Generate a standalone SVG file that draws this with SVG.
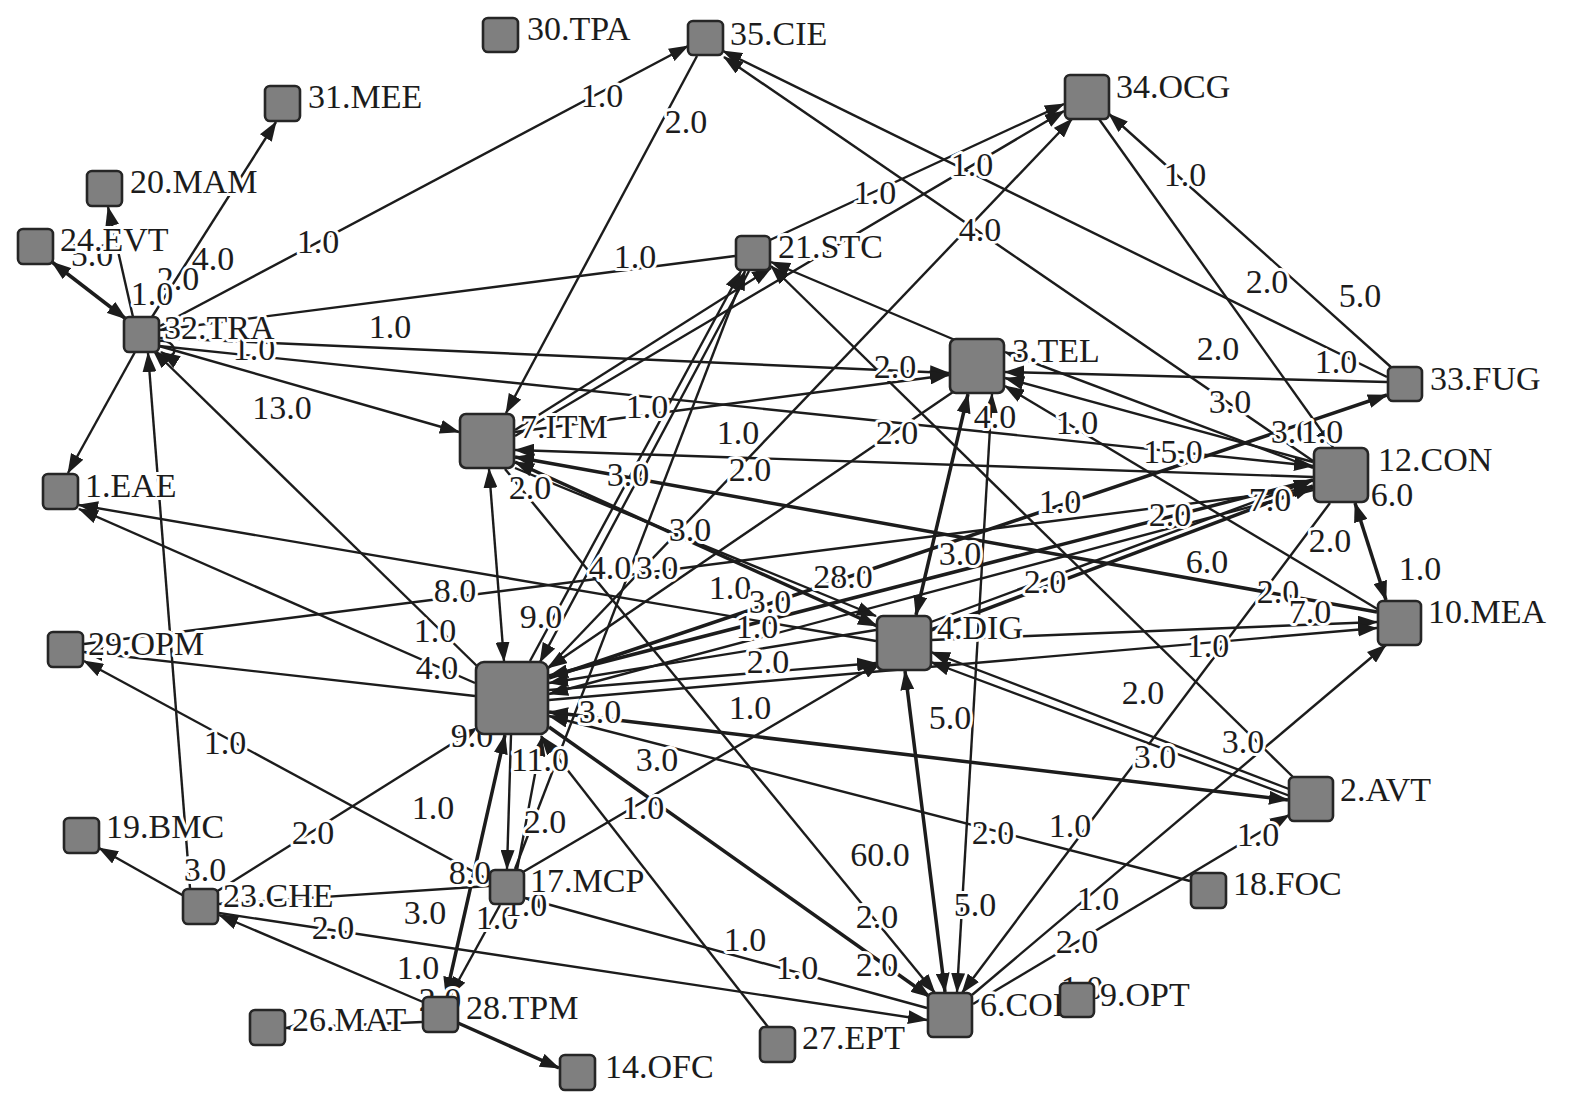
<svg xmlns="http://www.w3.org/2000/svg" width="1575" height="1099" viewBox="0 0 1575 1099">
<style>
.e{stroke:#1c1c1c;fill:none;stroke-width:2.4}
.t{stroke-width:3.5}
.n{fill:#7f7f7f;stroke:#262626;stroke-width:2.6}
text{font-family:"Liberation Serif","Times New Roman",serif;font-size:34px;fill:#1c1c1c}
.l{paint-order:stroke;stroke:#fff;stroke-width:6;stroke-linejoin:round;text-anchor:middle}
.nl{paint-order:stroke;stroke:#fff;stroke-width:6;stroke-linejoin:round}
</style>
<defs>
<marker id="a" viewBox="0 0 20 14" refX="19" refY="7" markerWidth="20" markerHeight="14" markerUnits="userSpaceOnUse" orient="auto-start-reverse"><path d="M0,0 L20,7 L0,14 z" fill="#1c1c1c"/></marker>
</defs>
<rect width="1575" height="1099" fill="#fff"/>
<g id="edges">
<line class="e t" x1="52" y1="262" x2="126" y2="319" marker-start="url(#a)" marker-end="url(#a)"/>
<line class="e" x1="133" y1="317" x2="108" y2="207" marker-end="url(#a)"/>
<line class="e" x1="152" y1="317" x2="276" y2="122" marker-end="url(#a)"/>
<line class="e" x1="160" y1="326" x2="688" y2="46" stroke-width="4" marker-end="url(#a)"/>
<line class="e" x1="735" y1="256" x2="160" y2="330" marker-end="url(#a)"/>
<line class="e" x1="159" y1="338" x2="949" y2="373" marker-end="url(#a)"/>
<line class="e" x1="159" y1="346" x2="1313" y2="466" marker-end="url(#a)"/>
<line class="e" x1="159" y1="346" x2="459" y2="432" marker-end="url(#a)"/>
<line class="e" x1="135" y1="352" x2="68" y2="473" marker-end="url(#a)"/>
<line class="e" x1="190" y1="888" x2="148" y2="353" marker-end="url(#a)"/>
<line class="e" x1="478" y1="667" x2="153" y2="350" marker-end="url(#a)"/>
<path class="e" d="M159,341 C178,338 180,364 161,352" marker-end="url(#a)"/>
<line class="e" x1="876" y1="641" x2="79" y2="505" marker-end="url(#a)"/>
<line class="e" x1="475" y1="683" x2="79" y2="509" marker-end="url(#a)"/>
<line class="e" x1="84" y1="644" x2="1313" y2="488" marker-end="url(#a)"/>
<line class="e" x1="475" y1="696" x2="84" y2="652" marker-end="url(#a)"/>
<line class="e" x1="489" y1="880" x2="84" y2="661" marker-end="url(#a)"/>
<line class="e" x1="216" y1="892" x2="477" y2="728" stroke-width="4.4" marker-end="url(#a)"/>
<line class="e" x1="184" y1="896" x2="99" y2="848" marker-end="url(#a)"/>
<line class="e" x1="489" y1="886" x2="219" y2="904" marker-end="url(#a)"/>
<line class="e" x1="219" y1="913" x2="927" y2="1020" marker-end="url(#a)"/>
<line class="e" x1="423" y1="1002" x2="219" y2="915" stroke-width="4.4" marker-end="url(#a)"/>
<line class="e" x1="422" y1="1022" x2="285" y2="1028" marker-end="url(#a)"/>
<line class="e t" x1="458" y1="1023" x2="559" y2="1068" marker-end="url(#a)"/>
<line class="e" x1="500" y1="905" x2="450" y2="996" marker-end="url(#a)"/>
<line class="e t" x1="505" y1="735" x2="446" y2="996" marker-start="url(#a)" marker-end="url(#a)"/>
<line class="e" x1="511" y1="735" x2="507" y2="869" marker-end="url(#a)"/>
<line class="e" x1="517" y1="870" x2="542" y2="737" marker-end="url(#a)"/>
<line class="e" x1="768" y1="1027" x2="541" y2="736" marker-end="url(#a)"/>
<line class="e" x1="523" y1="872" x2="881" y2="662" marker-end="url(#a)"/>
<line class="e" x1="927" y1="1008" x2="525" y2="898" marker-end="url(#a)"/>
<line class="e t" x1="549" y1="727" x2="930" y2="997" marker-end="url(#a)"/>
<line class="e" x1="505" y1="469" x2="935" y2="993" marker-end="url(#a)"/>
<line class="e t" x1="905" y1="671" x2="945" y2="992" marker-start="url(#a)" marker-end="url(#a)"/>
<line class="e" x1="992" y1="394" x2="957" y2="992" marker-start="url(#a)" marker-end="url(#a)"/>
<line class="e t" x1="968" y1="394" x2="916" y2="615" marker-start="url(#a)" marker-end="url(#a)"/>
<line class="e" x1="489" y1="469" x2="504" y2="661" stroke-width="2.8" marker-start="url(#a)" marker-end="url(#a)"/>
<line class="e" x1="749" y1="271" x2="540" y2="662" marker-end="url(#a)"/>
<line class="e" x1="530" y1="661" x2="741" y2="271" marker-end="url(#a)"/>
<line class="e" x1="515" y1="869" x2="745" y2="271" marker-end="url(#a)"/>
<line class="e" x1="515" y1="430" x2="771" y2="268" marker-end="url(#a)"/>
<line class="e" x1="515" y1="436" x2="1064" y2="111" marker-end="url(#a)"/>
<line class="e" x1="770" y1="240" x2="1064" y2="104" marker-end="url(#a)"/>
<line class="e" x1="548" y1="668" x2="1072" y2="119" marker-end="url(#a)"/>
<line class="e" x1="697" y1="56" x2="506" y2="413" marker-end="url(#a)"/>
<line class="e" x1="1387" y1="377" x2="723" y2="51" marker-end="url(#a)"/>
<line class="e" x1="1316" y1="463" x2="724" y2="57" marker-end="url(#a)"/>
<line class="e" x1="1099" y1="119" x2="1333" y2="447" marker-end="url(#a)"/>
<line class="e" x1="1392" y1="368" x2="1109" y2="114" marker-end="url(#a)"/>
<line class="e" x1="1387" y1="382" x2="1005" y2="372" marker-end="url(#a)"/>
<line class="e t" x1="549" y1="678" x2="1387" y2="395" marker-end="url(#a)"/>
<line class="e" x1="1313" y1="462" x2="1005" y2="378" marker-end="url(#a)"/>
<line class="e" x1="1313" y1="468" x2="1005" y2="352" marker-end="url(#a)"/>
<line class="e" x1="1379" y1="610" x2="1005" y2="386" marker-end="url(#a)"/>
<line class="e" x1="1313" y1="477" x2="515" y2="450" stroke-width="2.8" marker-end="url(#a)"/>
<line class="e t" x1="1377" y1="612" x2="515" y2="457" marker-end="url(#a)"/>
<line class="e t" x1="515" y1="462" x2="877" y2="626" marker-start="url(#a)" marker-end="url(#a)"/>
<line class="e" x1="515" y1="468" x2="876" y2="616" marker-end="url(#a)"/>
<line class="e" x1="931" y1="640" x2="1377" y2="622" marker-end="url(#a)"/>
<line class="e" x1="549" y1="700" x2="1377" y2="628" marker-end="url(#a)"/>
<line class="e" x1="1330" y1="503" x2="962" y2="993" marker-end="url(#a)"/>
<line class="e t" x1="1355" y1="503" x2="1386" y2="600" marker-start="url(#a)" marker-end="url(#a)"/>
<line class="e" x1="972" y1="995" x2="1386" y2="645" marker-end="url(#a)"/>
<line class="e" x1="973" y1="1004" x2="1289" y2="815" stroke-width="4" marker-end="url(#a)"/>
<line class="e t" x1="549" y1="712" x2="1288" y2="800" marker-start="url(#a)" marker-end="url(#a)"/>
<line class="e" x1="1289" y1="789" x2="931" y2="652" marker-end="url(#a)"/>
<line class="e" x1="1290" y1="796" x2="931" y2="662" marker-end="url(#a)"/>
<line class="e" x1="1293" y1="777" x2="771" y2="266" marker-end="url(#a)"/>
<line class="e" x1="1190" y1="881" x2="549" y2="716" marker-end="url(#a)"/>
<line class="e" x1="549" y1="690" x2="876" y2="663" stroke-width="2.8" marker-end="url(#a)"/>
<line class="e" x1="876" y1="630" x2="549" y2="683" stroke-width="2.8" marker-end="url(#a)"/>
<line class="e t" x1="1313" y1="480" x2="549" y2="676" marker-end="url(#a)"/>
<line class="e" x1="1313" y1="490" x2="549" y2="694" marker-end="url(#a)"/>
<line class="e t" x1="931" y1="630" x2="1313" y2="486" marker-end="url(#a)"/>
<line class="e" x1="931" y1="622" x2="1313" y2="480" marker-end="url(#a)"/>
<line class="e" x1="955" y1="340" x2="771" y2="262" marker-end="url(#a)"/>
<line class="e" x1="515" y1="432" x2="949" y2="375" stroke-width="2.8" marker-end="url(#a)"/>
<line class="e" x1="953" y1="392" x2="548" y2="668" stroke-width="2.8" marker-end="url(#a)"/>
</g>
<g id="edge-labels">
<text class="l" x="92" y="266">5.0</text>
<text class="l" x="178" y="290">2.0</text>
<text class="l" x="152" y="305">1.0</text>
<text class="l" x="213" y="270">4.0</text>
<text class="l" x="318" y="253">1.0</text>
<text class="l" x="602" y="107">1.0</text>
<text class="l" x="686" y="133">2.0</text>
<text class="l" x="635" y="268">1.0</text>
<text class="l" x="390" y="338">1.0</text>
<text class="l" x="254" y="360">1.0</text>
<text class="l" x="282" y="419">13.0</text>
<text class="l" x="875" y="204">1.0</text>
<text class="l" x="972" y="176">1.0</text>
<text class="l" x="980" y="241">4.0</text>
<text class="l" x="1185" y="186">1.0</text>
<text class="l" x="1267" y="293">2.0</text>
<text class="l" x="1360" y="307">5.0</text>
<text class="l" x="1218" y="360">2.0</text>
<text class="l" x="1336" y="373">1.0</text>
<text class="l" x="895" y="378">2.0</text>
<text class="l" x="995" y="428">4.0</text>
<text class="l" x="1077" y="434">1.0</text>
<text class="l" x="1230" y="413">3.0</text>
<text class="l" x="1292" y="443">3.0</text>
<text class="l" x="1322" y="443">1.0</text>
<text class="l" x="1173" y="463">15.0</text>
<text class="l" x="647" y="418">1.0</text>
<text class="l" x="738" y="444">1.0</text>
<text class="l" x="750" y="481">2.0</text>
<text class="l" x="897" y="444">2.0</text>
<text class="l" x="628" y="486">3.0</text>
<text class="l" x="530" y="499">2.0</text>
<text class="l" x="690" y="541">3.0</text>
<text class="l" x="1060" y="513">1.0</text>
<text class="l" x="1170" y="526">2.0</text>
<text class="l" x="1270" y="511">7.0</text>
<text class="l" x="1392" y="506">6.0</text>
<text class="l" x="1330" y="552">2.0</text>
<text class="l" x="1420" y="580">1.0</text>
<text class="l" x="1207" y="573">6.0</text>
<text class="l" x="1278" y="603">2.0</text>
<text class="l" x="1310" y="623">7.0</text>
<text class="l" x="1208" y="657">1.0</text>
<text class="l" x="960" y="565">3.0</text>
<text class="l" x="1045" y="593">2.0</text>
<text class="l" x="843" y="588">28.0</text>
<text class="l" x="610" y="579">4.0</text>
<text class="l" x="657" y="579">3.0</text>
<text class="l" x="730" y="599">1.0</text>
<text class="l" x="770" y="613">3.0</text>
<text class="l" x="757" y="638">1.0</text>
<text class="l" x="768" y="673">2.0</text>
<text class="l" x="455" y="602">8.0</text>
<text class="l" x="541" y="628">9.0</text>
<text class="l" x="435" y="642">1.0</text>
<text class="l" x="437" y="679">4.0</text>
<text class="l" x="750" y="719">1.0</text>
<text class="l" x="600" y="723">3.0</text>
<text class="l" x="657" y="771">3.0</text>
<text class="l" x="950" y="729">5.0</text>
<text class="l" x="1143" y="704">2.0</text>
<text class="l" x="1155" y="768">3.0</text>
<text class="l" x="1243" y="753">3.0</text>
<text class="l" x="472" y="747">9.0</text>
<text class="l" x="540" y="771">11.0</text>
<text class="l" x="225" y="754">1.0</text>
<text class="l" x="433" y="819">1.0</text>
<text class="l" x="313" y="844">2.0</text>
<text class="l" x="545" y="833">2.0</text>
<text class="l" x="643" y="819">1.0</text>
<text class="l" x="880" y="866">60.0</text>
<text class="l" x="993" y="844">2.0</text>
<text class="l" x="1070" y="837">1.0</text>
<text class="l" x="205" y="881">3.0</text>
<text class="l" x="470" y="884">8.0</text>
<text class="l" x="425" y="924">3.0</text>
<text class="l" x="497" y="929">1.0</text>
<text class="l" x="526" y="916">1.0</text>
<text class="l" x="333" y="939">2.0</text>
<text class="l" x="745" y="951">1.0</text>
<text class="l" x="797" y="979">1.0</text>
<text class="l" x="877" y="928">2.0</text>
<text class="l" x="877" y="976">2.0</text>
<text class="l" x="975" y="916">5.0</text>
<text class="l" x="1098" y="910">1.0</text>
<text class="l" x="1077" y="953">2.0</text>
<text class="l" x="1258" y="846">1.0</text>
<text class="l" x="418" y="979">1.0</text>
<text class="l" x="440" y="1011">2.0</text>
<text class="l" x="1082" y="999">1.0</text>
</g>
<g id="n30"><rect class="n" x="483" y="18" width="35" height="34" rx="5"/><text class="nl" x="527" y="40">30.TPA</text></g>
<g id="n35"><rect class="n" x="688" y="21" width="35" height="34" rx="5"/><text class="nl" x="730" y="45">35.CIE</text></g>
<g id="n31"><rect class="n" x="265" y="86" width="35" height="35" rx="5"/><text class="nl" x="308" y="108">31.MEE</text></g>
<g id="n20"><rect class="n" x="87" y="171" width="35" height="35" rx="5"/><text class="nl" x="130" y="193">20.MAM</text></g>
<g id="n24"><rect class="n" x="18" y="229" width="35" height="35" rx="5"/><text class="nl" x="60" y="251">24.EVT</text></g>
<g id="n32"><rect class="n" x="124" y="317" width="35" height="35" rx="5"/><text class="nl" x="164" y="339">32.TRA</text></g>
<g id="n34"><rect class="n" x="1065" y="75" width="44" height="44" rx="5"/><text class="nl" x="1116" y="98">34.OCG</text></g>
<g id="n21"><rect class="n" x="736" y="236" width="34" height="34" rx="5"/><text class="nl" x="778" y="258">21.STC</text></g>
<g id="n3"><rect class="n" x="950" y="339" width="54" height="54" rx="6"/><text class="nl" x="1012" y="362">3.TEL</text></g>
<g id="n33"><rect class="n" x="1388" y="367" width="34" height="34" rx="5"/><text class="nl" x="1430" y="390">33.FUG</text></g>
<g id="n7"><rect class="n" x="460" y="414" width="54" height="54" rx="6"/><text class="nl" x="520" y="438">7.ITM</text></g>
<g id="n12"><rect class="n" x="1314" y="448" width="54" height="54" rx="6"/><text class="nl" x="1378" y="471">12.CON</text></g>
<g id="n1"><rect class="n" x="43" y="474" width="35" height="35" rx="5"/><text class="nl" x="85" y="497">1.EAE</text></g>
<g id="n29"><rect class="n" x="48" y="632" width="35" height="35" rx="5"/><text class="nl" x="88" y="655">29.OPM</text></g>
<g id="n10"><rect class="n" x="1378" y="601" width="43" height="44" rx="5"/><text class="nl" x="1428" y="623">10.MEA</text></g>
<g id="n4"><rect class="n" x="877" y="616" width="54" height="54" rx="6"/><text class="nl" x="937" y="639">4.DIG</text></g>
<g id="n5"><rect class="n" x="476" y="662" width="72" height="72" rx="8"/></g>
<g id="n2"><rect class="n" x="1289" y="777" width="44" height="44" rx="5"/><text class="nl" x="1340" y="801">2.AVT</text></g>
<g id="n19"><rect class="n" x="64" y="818" width="35" height="35" rx="5"/><text class="nl" x="106" y="838">19.BMC</text></g>
<g id="n23"><rect class="n" x="183" y="889" width="35" height="35" rx="5"/><text class="nl" x="223" y="907">23.CHE</text></g>
<g id="n17"><rect class="n" x="490" y="870" width="34" height="34" rx="5"/><text class="nl" x="530" y="892">17.MCP</text></g>
<g id="n18"><rect class="n" x="1191" y="873" width="35" height="35" rx="5"/><text class="nl" x="1233" y="895">18.FOC</text></g>
<g id="n28"><rect class="n" x="423" y="997" width="35" height="35" rx="5"/><text class="nl" x="466" y="1019">28.TPM</text></g>
<g id="n26"><rect class="n" x="250" y="1010" width="35" height="35" rx="5"/><text class="nl" x="292" y="1031">26.MAT</text></g>
<g id="n14"><rect class="n" x="560" y="1055" width="35" height="35" rx="5"/><text class="nl" x="605" y="1078">14.OFC</text></g>
<g id="n27"><rect class="n" x="760" y="1027" width="35" height="35" rx="5"/><text class="nl" x="802" y="1049">27.EPT</text></g>
<g id="n6"><rect class="n" x="928" y="993" width="44" height="44" rx="5"/><text class="nl" x="980" y="1016">6.COI</text></g>
<g id="n9"><rect class="n" x="1060" y="983" width="34" height="34" rx="5"/><text class="nl" x="1100" y="1006">9.OPT</text></g>
</svg>
